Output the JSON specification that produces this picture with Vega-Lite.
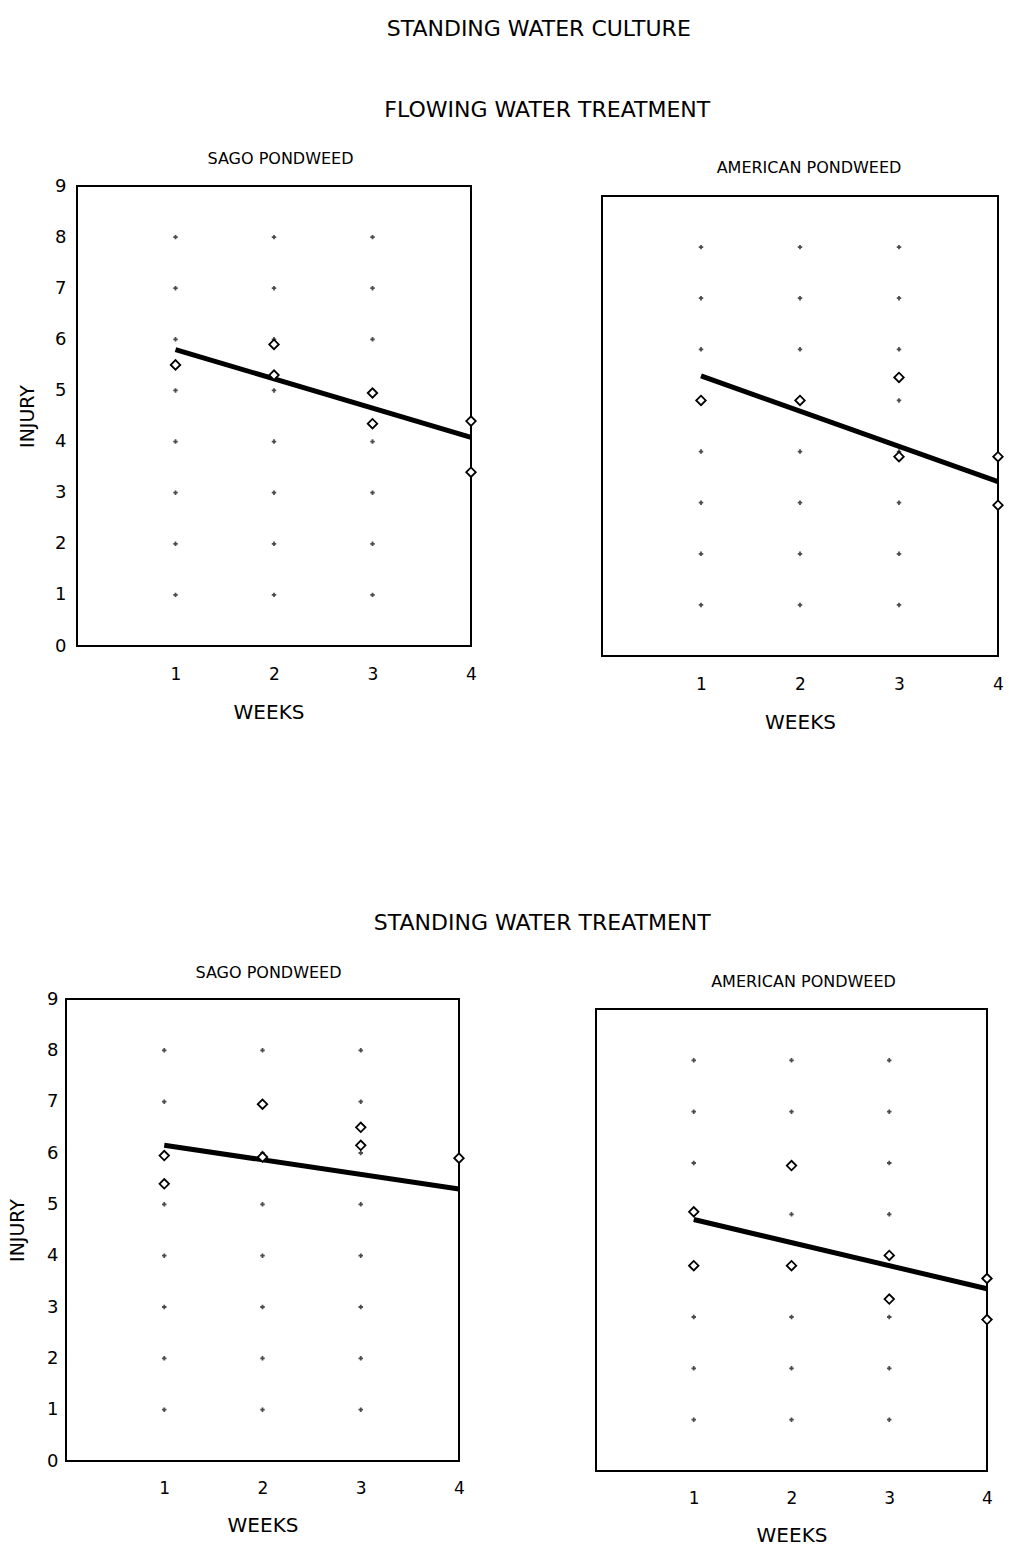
{
  "$schema": "https://vega.github.io/schema/vega-lite/v6.json",
  "padding": {"left": 7, "top": 18, "right": 0, "bottom": 0},
  "background": "white",
  "config": {
    "font": "DejaVu Sans",
    "view": {"stroke": "black", "strokeWidth": 2},
    "title": {"fontWeight": "normal", "color": "black", "anchor": "middle", "font": "DejaVu Sans"},
    "axis": {"domain": false, "ticks": false, "tickSize": 0, "grid": false, "labelColor": "black", "titleColor": "black", "titleFontWeight": "normal", "labelFont": "DejaVu Sans", "titleFont": "DejaVu Sans", "labelFlush": false}
  },
  "title": {"text": "STANDING WATER CULTURE", "fontSize": 22, "offset": 58, "dx": 31},
  "datasets": {
    "grid": [
      {"week": 1, "injury": 1}, {"week": 1, "injury": 2}, {"week": 1, "injury": 3}, {"week": 1, "injury": 4},
      {"week": 1, "injury": 5}, {"week": 1, "injury": 6}, {"week": 1, "injury": 7}, {"week": 1, "injury": 8},
      {"week": 2, "injury": 1}, {"week": 2, "injury": 2}, {"week": 2, "injury": 3}, {"week": 2, "injury": 4},
      {"week": 2, "injury": 5}, {"week": 2, "injury": 6}, {"week": 2, "injury": 7}, {"week": 2, "injury": 8},
      {"week": 3, "injury": 1}, {"week": 3, "injury": 2}, {"week": 3, "injury": 3}, {"week": 3, "injury": 4},
      {"week": 3, "injury": 5}, {"week": 3, "injury": 6}, {"week": 3, "injury": 7}, {"week": 3, "injury": 8}
    ],
    "points": [
      {"panel": "flowing-sago", "week": 1, "injury": 5.5},
      {"panel": "flowing-sago", "week": 2, "injury": 5.9},
      {"panel": "flowing-sago", "week": 2, "injury": 5.3},
      {"panel": "flowing-sago", "week": 3, "injury": 4.95},
      {"panel": "flowing-sago", "week": 3, "injury": 4.35},
      {"panel": "flowing-sago", "week": 4, "injury": 4.4},
      {"panel": "flowing-sago", "week": 4, "injury": 3.4},
      {"panel": "flowing-american", "week": 1, "injury": 5.0},
      {"panel": "flowing-american", "week": 2, "injury": 5.0},
      {"panel": "flowing-american", "week": 3, "injury": 5.45},
      {"panel": "flowing-american", "week": 3, "injury": 3.9},
      {"panel": "flowing-american", "week": 4, "injury": 3.9},
      {"panel": "flowing-american", "week": 4, "injury": 2.95},
      {"panel": "standing-sago", "week": 1, "injury": 5.95},
      {"panel": "standing-sago", "week": 1, "injury": 5.4},
      {"panel": "standing-sago", "week": 2, "injury": 6.95},
      {"panel": "standing-sago", "week": 2, "injury": 5.92},
      {"panel": "standing-sago", "week": 3, "injury": 6.5},
      {"panel": "standing-sago", "week": 3, "injury": 6.15},
      {"panel": "standing-sago", "week": 4, "injury": 5.9},
      {"panel": "standing-american", "week": 1, "injury": 5.05},
      {"panel": "standing-american", "week": 1, "injury": 4.0},
      {"panel": "standing-american", "week": 2, "injury": 5.95},
      {"panel": "standing-american", "week": 2, "injury": 4.0},
      {"panel": "standing-american", "week": 3, "injury": 4.2},
      {"panel": "standing-american", "week": 3, "injury": 3.35},
      {"panel": "standing-american", "week": 4, "injury": 3.75},
      {"panel": "standing-american", "week": 4, "injury": 2.95}
    ],
    "fits": [
      {"panel": "flowing-sago", "week": 1, "injury": 5.8},
      {"panel": "flowing-sago", "week": 4, "injury": 4.08},
      {"panel": "flowing-american", "week": 1, "injury": 5.48},
      {"panel": "flowing-american", "week": 4, "injury": 3.41},
      {"panel": "standing-sago", "week": 1, "injury": 6.15},
      {"panel": "standing-sago", "week": 4, "injury": 5.3},
      {"panel": "standing-american", "week": 1, "injury": 4.9},
      {"panel": "standing-american", "week": 4, "injury": 3.55}
    ]
  },
  "spacing": 180,
  "vconcat": [
    {
      "title": {"text": "FLOWING WATER TREATMENT", "fontSize": 22, "offset": 28, "dx": 34},
      "spacing": 120,
      "hconcat": [
        {
          "width": 405, "height": 460,
          "view": {"stroke": null},
          "title": {"text": "SAGO PONDWEED", "fontSize": 16, "offset": 10, "frame": "group", "dx": 12},
          "resolve": {"axis": {"x": "independent", "y": "independent"}},
          "layer": [
            {"data": {"values": [{}]}, "mark": {"type": "rect", "fill": "transparent", "stroke": "black", "strokeWidth": 2},
             "encoding": {
               "x": {"datum": 0, "type": "quantitative", "axis": null, "scale": {"domain": [-0.1117, 4], "nice": false, "zero": false}},
               "x2": {"datum": 4},
               "y": {"datum": 0, "type": "quantitative", "axis": null, "scale": {"domain": [0, 9], "nice": false}},
               "y2": {"datum": 9}}},
            {"data": {"name": "grid"}, "mark": {"type": "point", "shape": "cross", "size": 20, "filled": true, "color": "black"},
             "encoding": {
               "x": {"field": "week", "type": "quantitative", "scale": {"domain": [-0.1117, 4], "nice": false, "zero": false},
                     "axis": {"values": [1, 2, 3, 4], "title": "WEEKS", "labelFontSize": 17, "labelPadding": 20, "titleFontSize": 20, "titlePadding": 20}},
               "y": {"field": "injury", "type": "quantitative", "scale": {"domain": [0, 9], "nice": false},
                     "axis": {"values": [0, 1, 2, 3, 4, 5, 6, 7, 8, 9], "title": "INJURY", "offset": -11, "labelFontSize": 18, "labelPadding": 11, "titleFontSize": 19, "titlePadding": 17}}}},
            {"data": {"name": "fits"}, "transform": [{"filter": "datum.panel === 'flowing-sago'"}], "mark": {"type": "line", "color": "black", "strokeWidth": 5},
             "encoding": {
               "x": {"field": "week", "type": "quantitative", "axis": null, "scale": {"domain": [-0.1117, 4], "nice": false, "zero": false}},
               "y": {"field": "injury", "type": "quantitative", "axis": null, "scale": {"domain": [0, 9], "nice": false}}}},
            {"data": {"name": "points"}, "transform": [{"filter": "datum.panel === 'flowing-sago'"}], "mark": {"type": "point", "shape": "diamond", "size": 90, "filled": true, "fill": "white", "stroke": "black", "strokeWidth": 1.8, "opacity": 1},
             "encoding": {
               "x": {"field": "week", "type": "quantitative", "axis": null, "scale": {"domain": [-0.1117, 4], "nice": false, "zero": false}},
               "y": {"field": "injury", "type": "quantitative", "axis": null, "scale": {"domain": [0, 9], "nice": false}}}}
          ]
        },
        {
          "width": 396, "height": 470,
          "view": {"stroke": null},
          "title": {"text": ["", "AMERICAN PONDWEED"], "fontSize": 16, "lineHeight": 10, "offset": 10, "frame": "group", "dx": 9},
          "resolve": {"axis": {"x": "independent", "y": "independent"}},
          "layer": [
            {"data": {"values": [{}]}, "mark": {"type": "rect", "fill": "transparent", "stroke": "black", "strokeWidth": 2},
             "encoding": {
               "x": {"datum": 0, "type": "quantitative", "axis": null, "scale": {"domain": [0, 4], "nice": false, "zero": false}},
               "x2": {"datum": 4},
               "y": {"datum": 0, "type": "quantitative", "axis": null, "scale": {"domain": [0, 9.1957], "nice": false}},
               "y2": {"datum": 9}}},
            {"data": {"name": "grid"}, "mark": {"type": "point", "shape": "cross", "size": 20, "filled": true, "color": "black"},
             "encoding": {
               "x": {"field": "week", "type": "quantitative", "scale": {"domain": [0, 4], "nice": false, "zero": false},
                     "axis": {"values": [1, 2, 3, 4], "title": "WEEKS", "labelFontSize": 17, "labelPadding": 20, "titleFontSize": 20, "titlePadding": 20}},
               "y": {"field": "injury", "type": "quantitative", "scale": {"domain": [0, 9.1957], "nice": false}, "axis": null}}},
            {"data": {"name": "fits"}, "transform": [{"filter": "datum.panel === 'flowing-american'"}], "mark": {"type": "line", "color": "black", "strokeWidth": 5},
             "encoding": {
               "x": {"field": "week", "type": "quantitative", "axis": null, "scale": {"domain": [0, 4], "nice": false, "zero": false}},
               "y": {"field": "injury", "type": "quantitative", "axis": null, "scale": {"domain": [0, 9.1957], "nice": false}}}},
            {"data": {"name": "points"}, "transform": [{"filter": "datum.panel === 'flowing-american'"}], "mark": {"type": "point", "shape": "diamond", "size": 90, "filled": true, "fill": "white", "stroke": "black", "strokeWidth": 1.8, "opacity": 1},
             "encoding": {
               "x": {"field": "week", "type": "quantitative", "axis": null, "scale": {"domain": [0, 4], "nice": false, "zero": false}},
               "y": {"field": "injury", "type": "quantitative", "axis": null, "scale": {"domain": [0, 9.1957], "nice": false}}}}
          ]
        }
      ]
    },
    {
      "title": {"text": "STANDING WATER TREATMENT", "fontSize": 22, "offset": 29, "dx": 40},
      "spacing": 125,
      "hconcat": [
        {
          "width": 393, "height": 462,
          "title": {"text": "SAGO PONDWEED", "fontSize": 16, "offset": 9, "frame": "group", "dx": 6},
          "resolve": {"axis": {"x": "independent", "y": "independent"}},
          "layer": [
            {"data": {"name": "grid"}, "mark": {"type": "point", "shape": "cross", "size": 20, "filled": true, "color": "black"},
             "encoding": {
               "x": {"field": "week", "type": "quantitative", "scale": {"domain": [0, 4], "nice": false, "zero": false},
                     "axis": {"values": [1, 2, 3, 4], "title": "WEEKS", "labelFontSize": 17, "labelPadding": 19, "titleFontSize": 20, "titlePadding": 19}},
               "y": {"field": "injury", "type": "quantitative", "scale": {"domain": [0, 9], "nice": false},
                     "axis": {"values": [0, 1, 2, 3, 4, 5, 6, 7, 8, 9], "title": "INJURY", "labelFontSize": 18, "labelPadding": 8, "titleFontSize": 19, "titlePadding": 19}}}},
            {"data": {"name": "fits"}, "transform": [{"filter": "datum.panel === 'standing-sago'"}], "mark": {"type": "line", "color": "black", "strokeWidth": 5},
             "encoding": {
               "x": {"field": "week", "type": "quantitative", "axis": null, "scale": {"domain": [0, 4], "nice": false, "zero": false}},
               "y": {"field": "injury", "type": "quantitative", "axis": null, "scale": {"domain": [0, 9], "nice": false}}}},
            {"data": {"name": "points"}, "transform": [{"filter": "datum.panel === 'standing-sago'"}], "mark": {"type": "point", "shape": "diamond", "size": 90, "filled": true, "fill": "white", "stroke": "black", "strokeWidth": 1.8, "opacity": 1},
             "encoding": {
               "x": {"field": "week", "type": "quantitative", "axis": null, "scale": {"domain": [0, 4], "nice": false, "zero": false}},
               "y": {"field": "injury", "type": "quantitative", "axis": null, "scale": {"domain": [0, 9], "nice": false}}}}
          ]
        },
        {
          "width": 391, "height": 472,
          "view": {"stroke": null},
          "title": {"text": ["", "AMERICAN PONDWEED"], "fontSize": 16, "lineHeight": 10, "offset": 9, "frame": "group", "dx": 12},
          "resolve": {"axis": {"x": "independent", "y": "independent"}},
          "layer": [
            {"data": {"values": [{}]}, "mark": {"type": "rect", "fill": "transparent", "stroke": "black", "strokeWidth": 2},
             "encoding": {
               "x": {"datum": 0, "type": "quantitative", "axis": null, "scale": {"domain": [0, 4], "nice": false, "zero": false}},
               "x2": {"datum": 4},
               "y": {"datum": 0, "type": "quantitative", "axis": null, "scale": {"domain": [0, 9.1948], "nice": false}},
               "y2": {"datum": 9}}},
            {"data": {"name": "grid"}, "mark": {"type": "point", "shape": "cross", "size": 20, "filled": true, "color": "black"},
             "encoding": {
               "x": {"field": "week", "type": "quantitative", "scale": {"domain": [0, 4], "nice": false, "zero": false},
                     "axis": {"values": [1, 2, 3, 4], "title": "WEEKS", "labelFontSize": 17, "labelPadding": 19, "titleFontSize": 20, "titlePadding": 19}},
               "y": {"field": "injury", "type": "quantitative", "scale": {"domain": [0, 9.1948], "nice": false}, "axis": null}}},
            {"data": {"name": "fits"}, "transform": [{"filter": "datum.panel === 'standing-american'"}], "mark": {"type": "line", "color": "black", "strokeWidth": 5},
             "encoding": {
               "x": {"field": "week", "type": "quantitative", "axis": null, "scale": {"domain": [0, 4], "nice": false, "zero": false}},
               "y": {"field": "injury", "type": "quantitative", "axis": null, "scale": {"domain": [0, 9.1948], "nice": false}}}},
            {"data": {"name": "points"}, "transform": [{"filter": "datum.panel === 'standing-american'"}], "mark": {"type": "point", "shape": "diamond", "size": 90, "filled": true, "fill": "white", "stroke": "black", "strokeWidth": 1.8, "opacity": 1},
             "encoding": {
               "x": {"field": "week", "type": "quantitative", "axis": null, "scale": {"domain": [0, 4], "nice": false, "zero": false}},
               "y": {"field": "injury", "type": "quantitative", "axis": null, "scale": {"domain": [0, 9.1948], "nice": false}}}}
          ]
        }
      ]
    }
  ]
}
